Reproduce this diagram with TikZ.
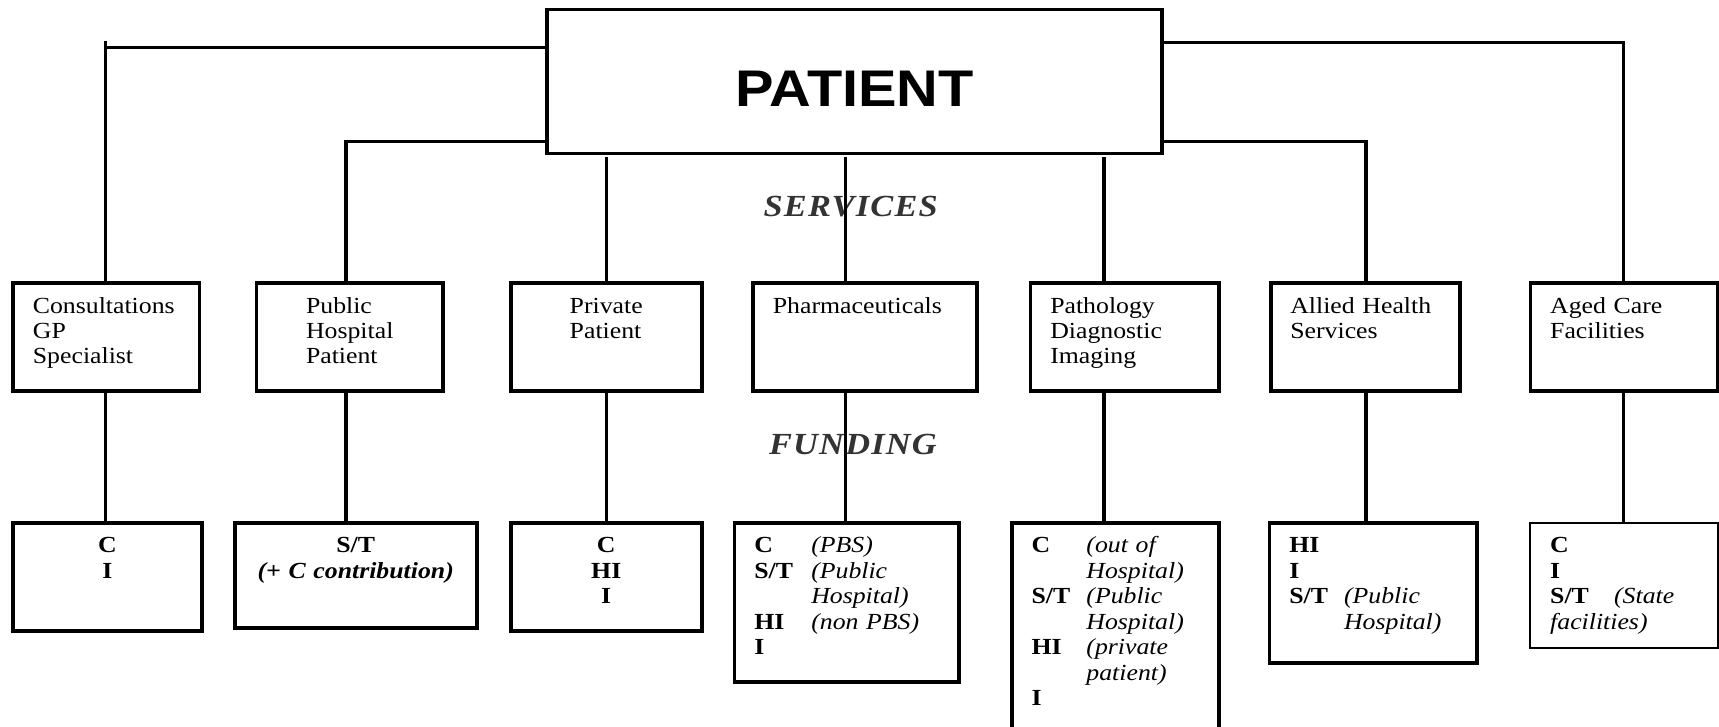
\documentclass[tikz,border=0pt]{standalone}
\usepackage{fontspec}
\setmainfont{Liberation Serif}[FakeStretch=1.12]
\newfontfamily\patfont{Liberation Sans}[FakeStretch=1.12]
\usepackage{tikz}
\usetikzlibrary{calc}

\newcommand{\servfont}{\fontsize{21}{23}\selectfont}
\newcommand{\fundfont}{\fontsize{21}{23.3}\selectfont\bfseries}
\newcommand{\fnote}[1]{{\mdseries\itshape #1}}

\begin{document}
\begin{tikzpicture}[x=1pt,y=-1pt,
  link/.style={line width=3pt},
  boxbase/.style={draw, line width=3.5pt, anchor=north west, outer sep=0pt,
    inner xsep=18pt, inner ysep=0pt, align=left},
  servbox/.style={boxbase, font=\servfont, text height=28pt, text depth=70.5pt},
  fundbox/.style={boxbase, font=\fundfont, text height=27pt},
  headtag/.style={font=\fontsize{28}{30}\selectfont\bfseries\itshape\addfontfeatures{LetterSpace=4},
    text=black!80}]
  \useasboundingbox (0,0) rectangle (1568,663);
  \clip (0,0) rectangle (1568,663);

  % patient
  \node[draw, line width=3pt, outer sep=0pt, inner sep=0pt,
    minimum width=561pt, minimum height=131.5pt,
    font=\patfont\bfseries\fontsize{47}{50}\selectfont,
    text height=45pt, text depth=0pt] (patient) at (779.5,74.25) {PATIENT};

  % services
  \node[servbox, text width=134pt] (s1) at (12,258) {Consultations\\GP\\Specialist};
  \node[servbox, text width=134pt, align=center] (s2) at (234,258)
    {\begin{tabular}[t]{@{}l@{}}Public\\Hospital\\Patient\end{tabular}};
  \node[servbox, text width=138pt, align=center] (s3) at (466,258)
    {\begin{tabular}[t]{@{}l@{}}Private\\Patient\end{tabular}};
  \node[servbox, text width=168pt] (s4) at (687,258) {Pharmaceuticals};
  \node[servbox, text width=136pt] (s5) at (940,258) {Pathology\\Diagnostic\\Imaging};
  \node[servbox, text width=137pt] (s6) at (1159,258) {Allied Health\\Services};
  \node[servbox, text width=135pt] (s7) at (1396,258) {Aged Care\\Facilities};

  % funding
  \node[fundbox, text width=136pt, text depth=71.5pt, align=center] (f1) at (12,477) {C\\I};
  \node[fundbox, text width=185pt, text depth=69pt, align=center] (f2) at (214,477)
    {S/T\\{\itshape (+ C contribution)}};
  \node[fundbox, text width=138pt, text depth=71.5pt, align=center] (f3) at (466,477) {C\\HI\\I};
  \node[fundbox, text width=169pt, text depth=118pt] (f4) at (670,477)
    {\begin{tabular}[t]{@{}p{52pt}@{}l@{}}
      C & \fnote{(PBS)}\\
      S/T & \fnote{(Public}\\
          & \fnote{Hospital)}\\
      HI & \fnote{(non PBS)}\\
      I &
    \end{tabular}};
  \node[fundbox, text width=153pt, text depth=233pt] (f5) at (923,477)
    {\begin{tabular}[t]{@{}p{50pt}@{}l@{}}
      C & \fnote{(out of}\\
        & \fnote{Hospital)}\\
      S/T & \fnote{(Public}\\
          & \fnote{Hospital)}\\
      HI & \fnote{(private}\\
         & \fnote{patient)}\\
      I &
    \end{tabular}};
  \node[fundbox, text width=153pt, text depth=101pt] (f6) at (1158,477)
    {\begin{tabular}[t]{@{}p{50pt}@{}l@{}}
      HI & \\
      I & \\
      S/T & \fnote{(Public}\\
          & \fnote{Hospital)}
    \end{tabular}};
  \node[fundbox, line width=1.8pt, text width=135pt, text depth=87pt] (f7) at (1396,477)
    {C\\I\\S/T\hspace{23pt}\fnote{(State}\\\fnote{facilities)}};

  % section titles
  \node[headtag] (services) at (776,188.5) {SERVICES};
  \node[headtag] (funding) at (778,405) {FUNDING};

  % connector columns
  \foreach \i/\cx in {1/96.5,2/315.5,3/553,4/771.5,5/1007,6/1246,7/1481}
    \coordinate (k\i) at (\cx,37);

  % patient to services
  \draw[link] ([yshift=30.75pt]patient.west) -| (k1);
  \draw[link] (k1) -- (k1 |- s1.north);
  \draw[link] ([yshift=-54.75pt]patient.west) -| (k2 |- s2.north);
  \foreach \i in {3,4,5}
    \draw[link] ([yshift=-3pt]k\i |- patient.south) -- (k\i |- s\i.north);
  \draw[link] ([yshift=-54.5pt]patient.east) -| (k6 |- s6.north);
  \draw[link] ([yshift=35.25pt]patient.east) -| (k7 |- s7.north);

  % services to funding
  \foreach \i in {1,...,7}
    \draw[link] (k\i |- s\i.south) -- (k\i |- f\i.north);
\end{tikzpicture}
\end{document}
